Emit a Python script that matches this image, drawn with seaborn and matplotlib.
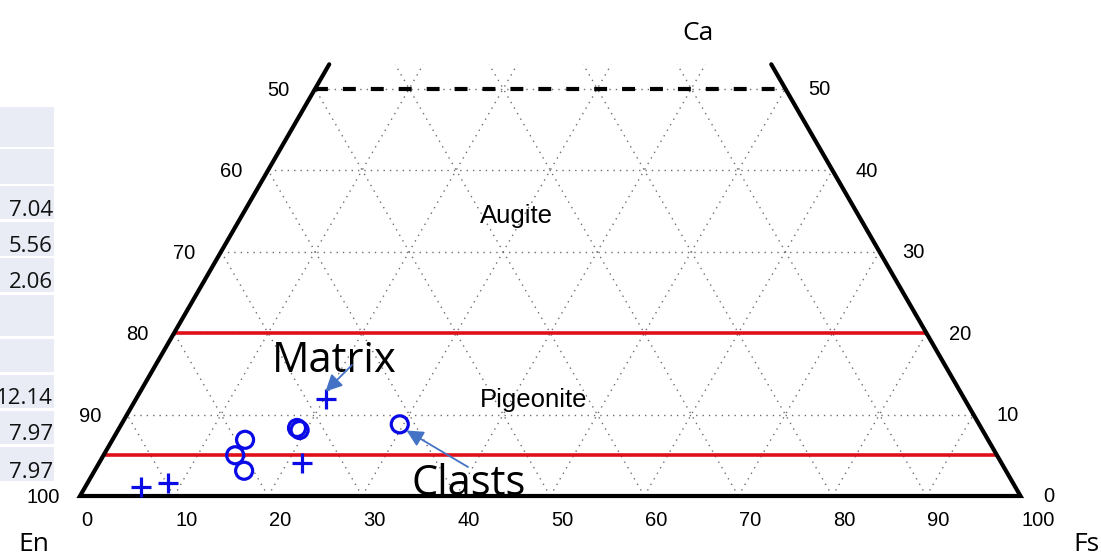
import numpy as np
import pandas as pd
import matplotlib
matplotlib.use("Agg")
import matplotlib.pyplot as plt
import seaborn as sns
from matplotlib.patches import Rectangle

# ---------------- data (ternary Wo / Fs percentages) ----------------
matrix_wo = [1.1, 1.6, 4.1, 11.9]
matrix_fs = [5.9, 8.6, 21.6, 20.2]
clast_wo = [6.9, 5.0, 3.1, 8.35, 8.1, 8.8]
clast_fs = [14.1, 14.0, 15.9, 18.9, 19.3, 29.6]

boundary_wo = [20, 5]            # augite / pigeonite / low-Ca boundaries (red)
top_wo = 50                      # quadrilateral top (dashed)
grid_steps = [10, 20, 30, 40, 50, 60, 70, 80, 90]
bottom_ticks = [0, 10, 20, 30, 40, 50, 60, 70, 80, 90, 100]
side_ticks = [0, 10, 20, 30, 40, 50]

table_vals = ["", "", "7.04", "5.56", "2.06", "", "", "12.14", "7.97", "7.97"]

# ---------------- setup ----------------
sns.set_style("white")
plt.rcParams["font.family"] = ["Liberation Sans", "DejaVu Sans"]
plt.rcParams["text.color"] = "black"

W, H = 1101, 554
fig = plt.figure(figsize=(W / 100, H / 100), dpi=100)
ax = fig.add_axes([0, 0, 1, 1])
S = 9.405          # px per unit
X0, Y0 = 80, 496   # pixel of En vertex
ax.set_xlim(-X0 / S, (W - X0) / S)
ax.set_ylim((Y0 - H) / S, Y0 / S)
ax.axis("off")

R3 = np.sqrt(3) / 2


def tern(wo, fs):
    wo = np.asarray(wo, float)
    fs = np.asarray(fs, float)
    return fs + wo / 2, wo * R3


def P(px, py):
    return (px - X0) / S, (Y0 - py) / S


WO_TOP = 53.0

# ---------------- grid ----------------
gkw = dict(color="#6e6e6e", lw=1.0, dashes=(1, 3.6), zorder=1)
for v in grid_steps:
    top = min(100 - v, WO_TOP)
    wo = np.array([0, top])
    x, y = tern(wo, [v, v])                 # constant Fs
    ax.plot(x, y, **gkw)
    x, y = tern(wo, 100 - v - wo)           # constant En
    ax.plot(x, y, **gkw)
for w in [10, 20, 30, 40, 50]:
    x, y = tern([w, w], [0, 100 - w])
    ax.plot(x, y, **gkw)

# boundaries
for w in boundary_wo:
    x, y = tern([w, w], [0, 100 - w])
    ax.plot(x, y, color="#E0101A", lw=2.6, zorder=3, solid_capstyle="butt")
x, y = tern([top_wo, top_wo], [0, 100 - top_wo])
ax.plot(x, y, color="black", lw=3, dashes=(3.1, 3.6), zorder=3)

# outline
x, y = tern([WO_TOP, 0, 0, WO_TOP], [0, 0, 100, 100 - WO_TOP])
ax.plot(x, y, color="black", lw=3, zorder=4, solid_joinstyle="miter")

# ---------------- data points ----------------
blue = "#0a0ae6"
mx, my = tern(matrix_wo, matrix_fs)
cx, cy = tern(clast_wo, clast_fs)
dfm = pd.DataFrame({"X": mx, "Y": my})
dfc = pd.DataFrame({"X": cx, "Y": cy})
sns.scatterplot(data=dfm, x="X", y="Y", marker="+", s=210, color=blue,
                linewidth=2.3, ax=ax, zorder=6, legend=False)
sns.scatterplot(data=dfc, x="X", y="Y", marker="o", s=150, color=blue,
                facecolor="none", edgecolor=blue, linewidth=2.3, ax=ax,
                zorder=6, legend=False)
ax.set_xlabel("")
ax.set_ylabel("")

# ---------------- tick labels ----------------
tfs = 14.5
for v in bottom_ticks:
    ax.text(v + 1 / S, (Y0 - 521) / S, str(v), ha="left", va="center", fontsize=tfs)
for w in side_ticks:
    xl, yl = tern(w, 0)
    ax.text(xl - 37 / S, yl - 1.5 / S, str(100 - w), ha="center", va="center", fontsize=tfs)
    xr, yr = tern(w, 100 - w)
    ax.text(xr + 23 / S, yr - 1 / S, str(w), ha="left", va="center", fontsize=tfs)

# field labels
ax.text(*P(480, 223), "Augite", ha="left", va="baseline", fontsize=18.5)
ax.text(*P(480, 407), "Pigeonite", ha="left", va="baseline", fontsize=18.5)

# corner labels
ck = dict(family=["Open Sans", "DejaVu Sans"], fontsize=19, va="baseline")
ax.text(*P(698, 40), "Ca", ha="center", **ck)
ax.text(*P(18, 551), "En", ha="left", **ck)
ax.text(*P(1073, 551), "Fs", ha="left", **ck)

# annotations
ak = dict(family=["Open Sans", "DejaVu Sans"], fontsize=30, va="baseline", ha="left")
ax.text(*P(272, 372), "Matrix", zorder=7, **ak)
ax.text(*P(411, 495), "Clasts", zorder=7, **ak)
arr = dict(arrowstyle="-|>", color="#4472C4", lw=1.3, mutation_scale=25,
           shrinkA=0, shrinkB=0)
ax.annotate("", xy=P(325.5, 391.5), xytext=P(352, 365), arrowprops=arr, zorder=7)
ax.annotate("", xy=P(406.5, 430.5), xytext=P(468, 467), arrowprops=arr, zorder=7)

# ---------------- cropped table on the left ----------------
rows = [(107, 147), (149, 184), (186, 219), (222, 256), (258, 292),
        (295, 336), (339, 372), (375, 408), (411, 444), (447, 481)]
for (t, b), val in zip(rows, table_vals):
    x1, y1 = P(-2, b)
    x2, y2 = P(54, t)
    ax.add_patch(Rectangle((x1, y1), x2 - x1, y2 - y1, facecolor="#E9EBF5",
                           edgecolor="none", zorder=0))
    if val:
        ax.text(*P(53, b - 3.5), val, ha="right", va="baseline", fontsize=16,
                color="#111111", family=["Open Sans", "DejaVu Sans"], zorder=2)

fig.savefig("out.png", dpi=100)
